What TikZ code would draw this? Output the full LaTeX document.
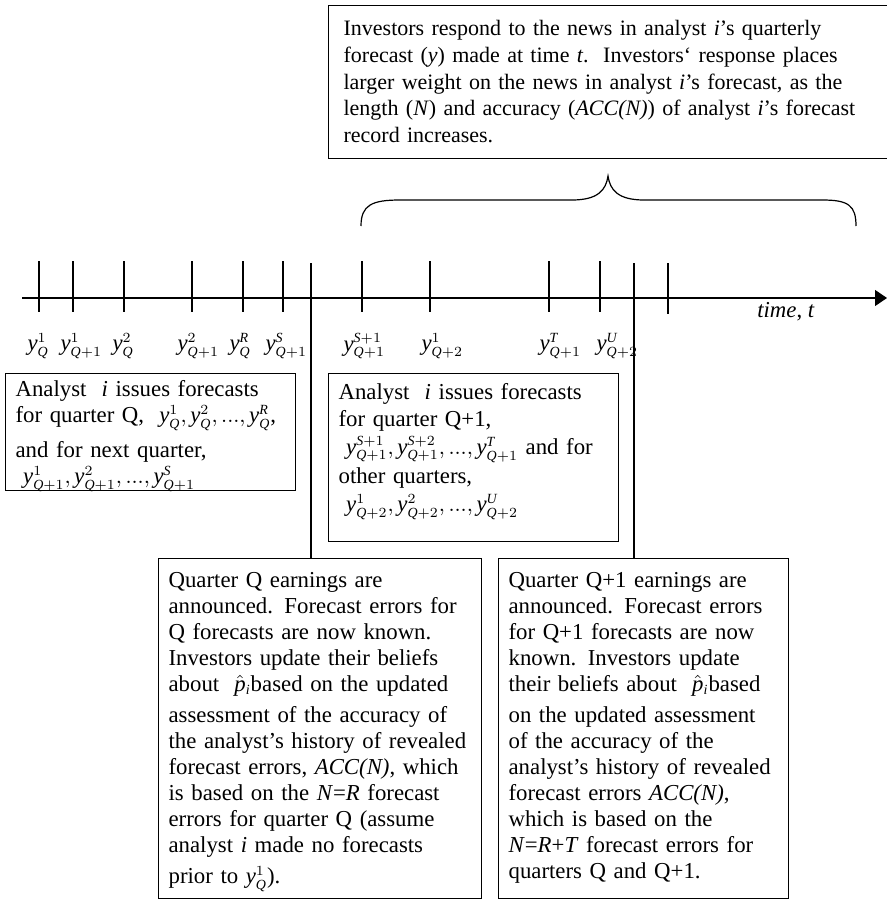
\documentclass[tikz,border=0pt]{standalone}
\usepackage{fontspec}
\setmainfont{Liberation Serif}
\usetikzlibrary{arrows.meta}
\DeclareMathSizes{11.4}{11.4}{7}{5}
\newcommand{\fcy}[2]{\mathit{y}^{#1}_{#2}}
\newcommand{\mQ}{\mathit{Q}}
\newcommand{\mR}{\mathit{R}}
\newcommand{\mS}{\mathit{S}}
\newcommand{\mT}{\mathit{T}}
\newcommand{\mU}{\mathit{U}}
\tikzset{
  infobox/.style={draw, align=left, anchor=north west, inner xsep=5pt, inner ysep=0pt},
  axtick/.style={line width=0.6pt},
  fclabel/.style={anchor=west, inner sep=0pt}
}
\begin{document}
\begin{tikzpicture}[x=0.5pt, y=-0.5pt, line width=0.6pt, font=\fontsize{11.4}{13}\selectfont]
        \useasboundingbox (0,0) rectangle (887,899);

        \begin{scope}[every node/.style={infobox}]
          \node (news) at (328,5) [text width=271pt, inner xsep=7.5pt,
            text height=15pt, text depth=61.5pt, font=\fontsize{11}{13.4}\selectfont]
            {Investors respond to the news in analyst \textit{i}'s quarterly\\
             forecast (\textit{y}) made at time \textit{t}.\ \ Investors` response places\\
             larger weight on the news in analyst \textit{i}'s forecast, as the\\
             length (\textit{N}) and accuracy (\textit{ACC(N)}) of analyst \textit{i}'s forecast\\
             record increases.};
          \node (issueQ) at (5,373) [text width=135pt, text height=11.5pt, text depth=47pt]
            {Analyst \ \textit{i} issues forecasts\\
             for quarter Q, \ $\fcy{1}{\mQ}, \fcy{2}{\mQ}, ..., \fcy{\mR}{\mQ}$,\\[4.5pt]
             and for next quarter,\\
             \ $\fcy{1}{\mQ+1}, \fcy{2}{\mQ+1}, ..., \fcy{\mS}{\mQ+1}$};
          \node (issueQ1) at (328,373) [text width=135pt, text height=13pt, text depth=71pt]
            {Analyst \ \textit{i} issues forecasts\\[0.5pt]
             for quarter Q+1,\\[1pt]
             \ $\fcy{\mS+1}{\mQ+1}, \fcy{\mS+2}{\mQ+1}, ..., \fcy{\mT}{\mQ+1}$ and for\\[1.5pt]
             other quarters,\\[1pt]
             \ $\fcy{1}{\mQ+2}, \fcy{2}{\mQ+2}, ..., \fcy{\mU}{\mQ+2}$};
          \node (annQ) at (158,558) [text width=151.5pt, text height=14.5pt, text depth=155.5pt]
            {Quarter Q earnings are\\
             announced. Forecast errors for\\
             Q forecasts are now known.\\
             Investors update their beliefs\\
             about \ $\hat{\mathit{p}}_{\mathit{i}}$based on the updated\\[2.5pt]
             assessment of the accuracy of\\
             the analyst's history of revealed\\
             forecast errors, \textit{ACC(N)}, which\\
             is based on the \textit{N}=\textit{R} forecast\\
             errors for quarter Q (assume\\
             analyst \textit{i} made no forecasts\\[2.5pt]
             prior to $\fcy{1}{\mQ}$).};
          \node (annQ1) at (498,558) [text width=135pt, text height=14.5pt, text depth=155.5pt]
            {Quarter Q+1 earnings are\\
             announced. Forecast errors\\
             for Q+1 forecasts are now\\
             known. Investors update\\
             their beliefs about \ $\hat{\mathit{p}}_{\mathit{i}}$based\\[2.5pt]
             on the updated assessment\\
             of the accuracy of the\\
             analyst's history of revealed\\
             forecast errors \textit{ACC(N)},\\
             which is based on the\\
             \textit{N}=\textit{R}+\textit{T} forecast errors for\\
             quarters Q and Q+1.};
        \end{scope}

        \coordinate (tstart) at (22,298);
        \coordinate (tend)   at (887,298);
        \draw[-{Triangle[length=6pt,width=8pt]}] (tstart) -- (tend);
        \node (time) at (786,312) {\textit{time}, \textit{t}};

        \foreach \x/\lx/\lab [count=\i] in {39/27/{\fcy{1}{\mQ}}, 73/60/{\fcy{1}{\mQ+1}},
            124/112/{\fcy{2}{\mQ}}, 192/177/{\fcy{2}{\mQ+1}}, 243/229/{\fcy{\mR}{\mQ}},
            283/265/{\fcy{\mS}{\mQ+1}}, 362/343/{\fcy{\mS+1}{\mQ+1}}, 430/421/{\fcy{1}{\mQ+2}},
            549/539/{\fcy{\mT}{\mQ+1}}, 600/596/{\fcy{\mU}{\mQ+2}}} {
          \draw[axtick] (\x,261) -- (\x,312);
          \node[fclabel] (lab\i) at (\lx,346) {$\lab$};
        }
        \draw[axtick] (668,263) -- (668,314);

        \coordinate (relQ)  at (311,263);
        \coordinate (relQ1) at (634,263);
        \draw (relQ)  -- (relQ |- annQ.north);
        \draw (relQ1) -- (relQ1 |- annQ1.north);

        \draw (361,226) .. controls (361,205) and (372,200) .. (400,200) -- (572,200)
          .. controls (598,200) and (606,190) .. (608,176)
          .. controls (610,190) and (618,200) .. (644,200) -- (822,200)
          .. controls (848,200) and (856,205) .. (856,226);

      \end{tikzpicture}
\end{document}
